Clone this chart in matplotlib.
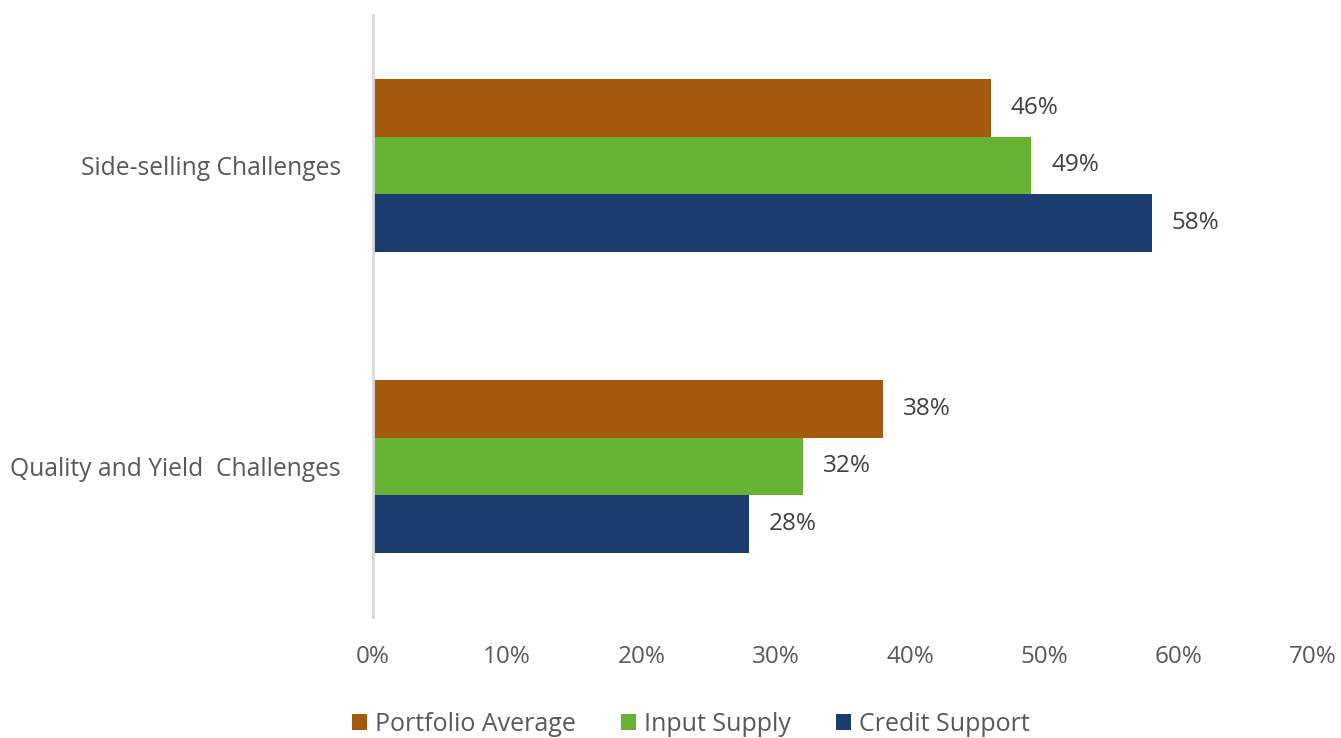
import matplotlib
matplotlib.use('Agg')
import matplotlib.pyplot as plt
import numpy as np

# Data
categories = ['Quality and Yield  Challenges', 'Side-selling Challenges']
series_names = ['Portfolio Average', 'Input Supply', 'Credit Support']
portfolio_avg = [38, 46]
input_supply = [32, 49]
credit_support = [28, 58]
x_ticks = [0, 10, 20, 30, 40, 50, 60, 70]

colors = ['#A5590C', '#67B233', '#1A3C6E']
text_color = '#595959'

plt.rcParams['font.family'] = ['Open Sans', 'DejaVu Sans']

fig = plt.figure(figsize=(13.41, 7.38), dpi=100)
ax = fig.add_axes([0.2781, 0.164, 0.7009, 0.8157])

y = np.arange(len(categories))
h = 0.192
offsets = [h, 0, -h]
for values, name, color, off in zip([portfolio_avg, input_supply, credit_support], series_names, colors, offsets):
    bars = ax.barh(y + off, values, height=h, color=color, label=name)
    for bar, v in zip(bars, values):
        ax.text(v + 1.5, bar.get_y() + bar.get_height() / 2, f'{v}%', va='center', ha='left',
                fontsize=17.5, color='#404040')

ax.set_xlim(0, 70)
ax.set_ylim(-0.5, 1.5)
ax.set_xticks(x_ticks)
ax.set_xticklabels([f'{t}%' for t in x_ticks])
ax.set_yticks(y)
ax.set_yticklabels(categories)
ax.tick_params(axis='both', length=0, labelcolor=text_color)
ax.tick_params(axis='x', pad=20, labelsize=17.5)
ax.tick_params(axis='y', pad=23, labelsize=17.7)

for side in ['top', 'right', 'bottom']:
    ax.spines[side].set_visible(False)
ax.spines['left'].set_color('#D9D9D9')
ax.spines['left'].set_linewidth(2)

fig.legend(loc='upper center', bbox_to_anchor=(0.515, 0.066), ncol=3, frameon=False,
           fontsize=18, handlelength=0.62, handleheight=0.62, handletextpad=0.3, columnspacing=1.8,
           labelcolor=text_color)

fig.savefig('out.png', dpi=100)
